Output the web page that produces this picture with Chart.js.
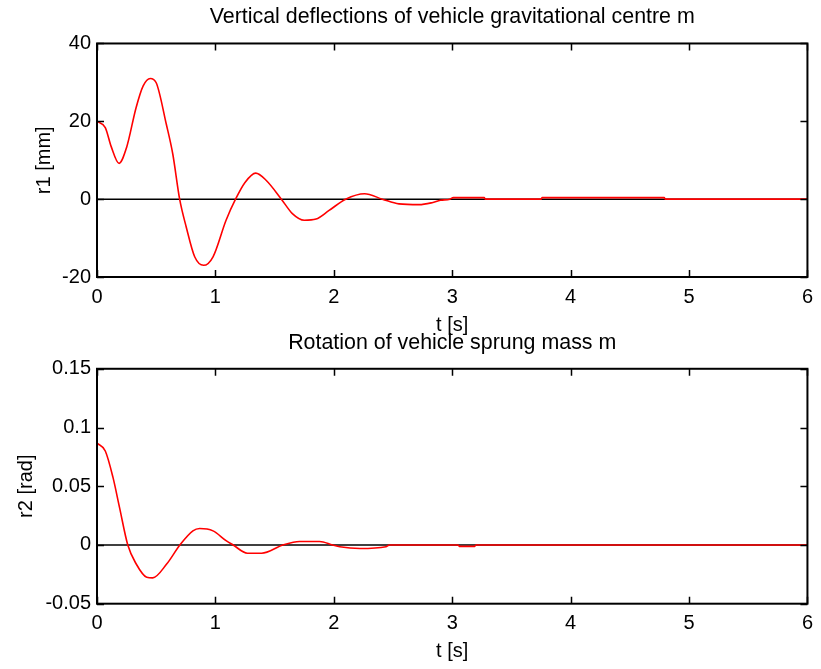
<!DOCTYPE html>
<html>
<head>
<meta charset="utf-8">
<script src="https://cdn.jsdelivr.net/npm/chart.js@4"></script>
<style>
  body { margin: 0; background: #fff; }
  #wrap { position: relative; width: 821px; height: 669px; }
  #wrap canvas { position: absolute; left: 0; }
</style>
</head>
<body>
<div id="wrap">
  <canvas id="top" width="821" height="345" style="top:0"></canvas>
  <canvas id="bottom" width="821" height="344" style="top:325px"></canvas>
</div>
<script>
// values
var tTop = [0, 0.07, 0.12, 0.186, 0.25, 0.33, 0.39, 0.45, 0.50, 0.585, 0.64, 0.698, 0.754, 0.825, 0.90, 0.98, 1.09, 1.17, 1.25, 1.34, 1.43, 1.557, 1.65, 1.75, 1.85, 1.96, 2.10, 2.26, 2.41, 2.55, 2.72, 2.83, 2.90, 2.98, 3.01, 3.27, 3.28, 3.75, 3.76, 4.79, 4.80, 6.0];
var r1 = [20, 18.4, 13.5, 9.2, 13.3, 23.5, 29.1, 31.0, 29.9, 19.3, 11.6, 0, -7.2, -14.8, -17.0, -14.8, -5.4, 0, 4.3, 6.7, 4.8, 0, -3.7, -5.4, -5.1, -2.9, 0, 1.4, 0, -1.2, -1.4, -0.9, -0.3, 0, 0.4, 0.4, 0, 0, 0.4, 0.4, 0, 0];

var tBottom = [0, 0.07, 0.135, 0.19, 0.26, 0.33, 0.42, 0.47, 0.59, 0.70, 0.81, 0.867, 0.98, 1.09, 1.15, 1.27, 1.39, 1.57, 1.71, 1.88, 1.99, 2.05, 2.22, 2.44, 2.47, 3.05, 3.06, 3.19, 3.20, 6];
var r2 = [0.0867, 0.080, 0.0575, 0.032, 0, -0.016, -0.0275, -0.028, -0.016, 0, 0.012, 0.014, 0.012, 0.0037, 0, -0.007, -0.007, 0, 0.003, 0.003, 0, -0.0015, -0.003, -0.0015, 0, 0, -0.0012, -0.0012, 0, 0];

var tRange = [0, 6];
var titleTop = 'Vertical deflections of vehicle gravitational centre m';
var titleBottom = 'Rotation of vehicle sprung mass m';

Chart.defaults.color = '#000';
Chart.defaults.font.family = '"Liberation Sans", Arial, sans-serif';
Chart.defaults.font.size = 20;

// matlab-like box with inward ticks
var boxTicks = {
    id: 'boxTicks',
    afterDatasetsDraw: function(chart) {
        var ctx = chart.ctx, a = chart.chartArea;
        var x = chart.scales.x, y = chart.scales.y;
        ctx.save();
        ctx.strokeStyle = '#000';
        ctx.lineWidth = 1.5;
        ctx.beginPath();
        x.ticks.forEach(function(t) {
            var px = Math.round(x.getPixelForValue(t.value)) + 0.5;
            ctx.moveTo(px, a.bottom); ctx.lineTo(px, a.bottom - 7);
            ctx.moveTo(px, a.top); ctx.lineTo(px, a.top + 7);
        });
        y.ticks.forEach(function(t) {
            var py = Math.round(y.getPixelForValue(t.value)) + 0.5;
            ctx.moveTo(a.left, py); ctx.lineTo(a.left + 7, py);
            ctx.moveTo(a.right, py); ctx.lineTo(a.right - 7, py);
        });
        ctx.stroke();
        ctx.lineWidth = 2;
        ctx.strokeRect(a.left, a.top, a.right - a.left, a.bottom - a.top);
        ctx.restore();
    }
};

function makeChart(id, t, vals, opts) {
    var pts = t.map(function(v, i) { return {x: v, y: vals[i]}; });
    return new Chart(document.getElementById(id), {
        type: 'line',
        data: {
            datasets: [
                {
                    data: pts,
                    borderColor: 'rgb(255, 0, 0)',
                    borderWidth: 1.6,
                    pointRadius: 0,
                    cubicInterpolationMode: 'monotone',
                    order: 0
                },
                {
                    data: [{x: tRange[0], y: 0}, {x: tRange[1], y: 0}],
                    borderColor: '#000',
                    borderWidth: 1.5,
                    pointRadius: 0,
                    order: 1
                }
            ]
        },
        options: {
            responsive: false,
            animation: false,
            layout: { padding: { left: 0, right: 11, top: 0, bottom: 0 } },
            plugins: {
                legend: { display: false },
                tooltip: { enabled: false },
                title: {
                    display: true,
                    fullSize: false,
                    text: opts.title,
                    font: { size: 21.4, weight: 'normal' },
                    padding: opts.titlePad
                }
            },
            scales: {
                x: {
                    type: 'linear',
                    min: tRange[0],
                    max: tRange[1],
                    border: { display: false },
                    grid: { display: false, drawTicks: false },
                    ticks: { stepSize: 1, padding: 8, maxRotation: 0 },
                    title: { display: true, text: 't [s]', padding: { top: 0, bottom: opts.xTitleBottom } },
                    afterFit: function(s) { s.height = opts.xHeight; }
                },
                y: {
                    min: opts.yMin,
                    max: opts.yMax,
                    border: { display: false },
                    grid: { display: false, drawTicks: false },
                    ticks: {
                        stepSize: opts.yStep,
                        padding: 6,
                        callback: function(v) { return String(Number(v.toFixed(2))); }
                    },
                    title: { display: true, text: opts.yTitle, padding: { top: opts.yTitleTop, bottom: 0 } },
                    afterFit: function(s) { s.width = 97; }
                }
            }
        },
        plugins: [boxTicks]
    });
}

makeChart('top', tTop, r1, {
    title: titleTop,
    titlePad: { top: 4.4, bottom: 13.4 },
    xHeight: 68,
    xTitleBottom: 8,
    yMin: -20, yMax: 40, yStep: 20,
    yTitle: 'r1 [mm]',
    yTitleTop: 32
});

makeChart('bottom', tBottom, r2, {
    title: titleBottom,
    titlePad: { top: 4.9, bottom: 13.2 },
    xHeight: 65.3,
    xTitleBottom: 5.5,
    yMin: -0.05, yMax: 0.15, yStep: 0.05,
    yTitle: 'r2 [rad]',
    yTitleTop: 14
});
</script>
</body>
</html>
